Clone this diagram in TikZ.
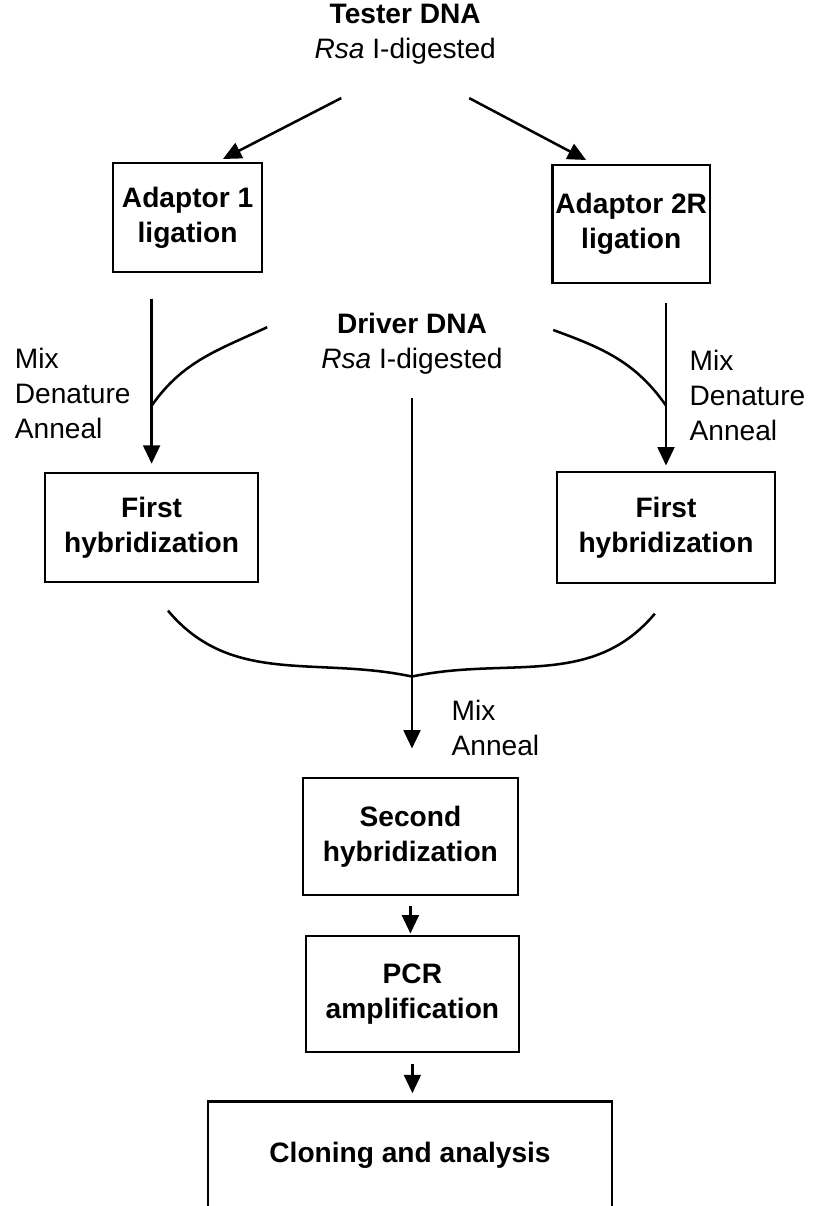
\documentclass[tikz,border=0pt]{standalone}
\usepackage{fontspec}
\setmainfont{Liberation Sans}
\usetikzlibrary{arrows.meta,calc}

\begin{document}
\begin{tikzpicture}[font=\fontsize{20}{24.8}\selectfont,
 box/.style={draw,line width=1.8pt,align=center,font=\fontsize{20}{25}\selectfont\bfseries,inner sep=2pt},
 src/.style={align=center,inner sep=1pt},
 arr/.style={-{Triangle[length=4.6mm,width=4.2mm]},line width=1.8pt},
 crv/.style={line width=1.8pt},
 stp/.style={align=left,anchor=west,inner sep=1pt}]
\useasboundingbox (0,0) rectangle (20.375,-30.15);
% sources
\node[src] (tester) at (10.13,-0.86) {\textbf{Tester DNA}\\ \textit{Rsa} I-digested};
\node[src] (driver) at (10.3,-8.6) {\textbf{Driver DNA}\\ \textit{Rsa} I-digested};
% boxes
\node[box,minimum width=3.73cm,minimum height=2.73cm] (ad1) at (4.69,-5.44) {Adaptor 1\\ ligation};
\node[box,minimum width=3.7cm,minimum height=2.95cm] (ad2) at (15.78,-5.6) {Adaptor 2R\\ ligation};
\node[box,minimum width=5.33cm,minimum height=2.73cm] (fh1) at (3.79,-13.19) {First\\ hybridization};
\node[box,minimum width=5.45cm,minimum height=2.78cm] (fh2) at (16.65,-13.19) {First\\ hybridization};
\node[box,minimum width=5.38cm,minimum height=2.93cm] (sh) at (10.26,-20.91) {Second\\ hybridization};
\node[box,minimum width=5.33cm,minimum height=2.9cm] (pcr) at (10.31,-24.85) {PCR\\ amplification};
\node[box,minimum width=10.1cm,minimum height=2.7cm,anchor=north] (clon) at (10.25,-27.5) {Cloning and analysis};
% step labels
\node[stp] (mix1) at (0.33,-9.84) {Mix\\ Denature\\ Anneal};
\node[stp] (mix2) at (17.2,-9.88) {Mix\\ Denature\\ Anneal};
\node[stp] (mix3) at (11.25,-18.19) {Mix\\ Anneal};
% tester to adaptors
\draw[arr,shorten >=0.15cm] ($(tester.south)+(-1.6,-0.8)$) -- ([xshift=0.75cm]ad1.north);
\draw[arr,shorten >=0.2cm] ($(tester.south)+(1.6,-0.8)$) -- ([xshift=-0.95cm]ad2.north);
% ligation to first hybridization
\draw[arr,shorten <=0.63cm,shorten >=0.2cm] (ad1.south -| fh1.north) -- (fh1.north);
\draw[arr,shorten <=0.48cm,shorten >=0.13cm] (ad2.south -| fh2.north) -- (fh2.north);
% driver joins
\coordinate (d1) at (6.68,-8.18);
\coordinate (d2) at (13.83,-8.25);
\coordinate (j1) at ($(fh1.north)+(0,1.65)$);
\coordinate (j2) at ($(fh2.north)+(0,1.63)$);
\draw[crv] (d1) to[out=205,in=55] (j1);
\draw[crv] (d2) to[out=-20,in=125] (j2);
% driver to second hybridization
\draw[arr,shorten <=0.55cm,shorten >=0.7cm] (driver.south) -- (driver.south |- sh.north);
\coordinate (h1) at ($(fh1.south)+(0.41,-0.68)$);
\coordinate (h2) at ($(fh2.south)+(-0.28,-0.73)$);
\coordinate (j3) at ($(driver.south |- sh.north)+(0,2.5)$);
\draw[crv] (h1) to[out=-50,in=168] (j3);
\draw[crv] (h2) to[out=-130,in=12] (j3);
% final steps
\draw[arr,shorten <=0.25cm,shorten >=0.03cm] (sh.south) -- (sh.south |- pcr.north);
\draw[arr,shorten <=0.28cm,shorten >=0.17cm] (pcr.south) -- (pcr.south |- clon.north);
\end{tikzpicture}
\end{document}
